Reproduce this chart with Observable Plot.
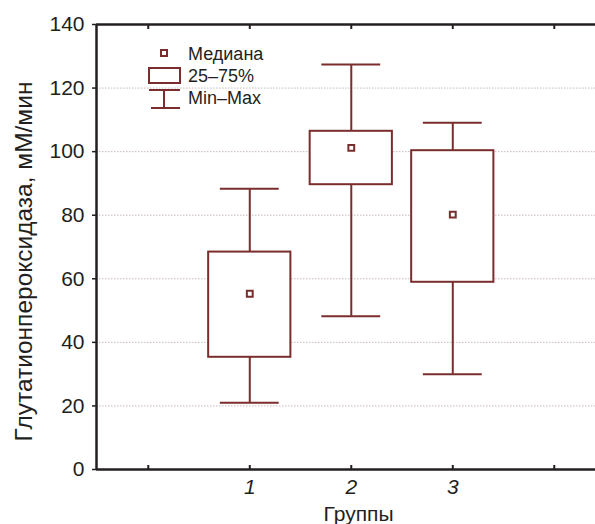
<!DOCTYPE html>
<html>
<head>
<meta charset="utf-8">
<script src="https://cdn.jsdelivr.net/npm/d3@7"></script>
<script src="https://cdn.jsdelivr.net/npm/@observablehq/plot@0.6"></script>
<style>
  html, body { margin: 0; padding: 0; background: #fff; }
  #wrap { position: relative; width: 595px; height: 524px; overflow: hidden; font-family: "Liberation Sans", Arial, sans-serif; }
  #legend { position: absolute; left: 0; top: 0; pointer-events: none; }
</style>
</head>
<body>
<div id="wrap">
  <div id="chart"></div>
  <svg id="legend" width="300" height="120" font-family="Liberation Sans, Arial, sans-serif" font-size="18" fill="#231f20">
    <rect x="161" y="50" width="6" height="6" fill="#fff" stroke="#7b2d2d" stroke-width="2"></rect>
    <text x="188" y="59.5">Медиана</text>
    <rect x="149" y="68" width="31" height="15" fill="#fff" stroke="#7b2d2d" stroke-width="2"></rect>
    <text x="188" y="81.5">25–75%</text>
    <line x1="149" x2="180" y1="90" y2="90" stroke="#7b2d2d" stroke-width="2"></line>
    <line x1="164" x2="164" y1="90" y2="108" stroke="#7b2d2d" stroke-width="2"></line>
    <line x1="151" x2="180" y1="108" y2="108" stroke="#7b2d2d" stroke-width="2"></line>
    <text x="188" y="103.5">Min–Max</text>
  </svg>
</div>
<script>
// ---- data ----
const groups  = [1, 2, 3];
const mins    = [21.0, 48.2, 30.0];
const q1      = [35.3, 89.6, 58.9];
const medians = [55.3, 101.2, 80.2];
const q3      = [68.4, 106.4, 100.3];
const maxs    = [88.3, 127.4, 109.1];

const yTicks = [0, 20, 40, 60, 80, 100, 120, 140];
const gridValues = [20, 40, 60, 80, 100, 120];
const xTicks = [0, 1, 2, 3, 4];
const xTickLabels = ["", "1", "2", "3", ""];
const yLabel = "Глутатионпероксидаза, мМ/мин";
const xLabel = "Группы";

const table = groups.map((g, i) => ({
  g, min: mins[i], q1: q1[i], med: medians[i], q3: q3[i], max: maxs[i]
}));

const brown = "#7b2d2d";
const ink = "#231f20";
const xDomain = [-0.51, 4.406];
const boxHalf = 0.405;
const capHalf = 0.29;

const chart = Plot.plot({
  width: 595,
  height: 524,
  marginLeft: 96,
  marginRight: 0,
  marginTop: 24,
  marginBottom: 55,
  style: { fontFamily: "Liberation Sans, Arial, sans-serif", background: "#fff", color: ink, overflow: "visible" },
  x: { type: "linear", domain: xDomain },
  y: { domain: [0, 140] },
  marks: [
    Plot.ruleY(gridValues, { stroke: "#c9b9b9", strokeWidth: 1, strokeDasharray: "1.5,1.5" }),
    // whiskers
    Plot.ruleX(table, { x: "g", y1: "min", y2: "q1", stroke: brown, strokeWidth: 2 }),
    Plot.ruleX(table, { x: "g", y1: "q3", y2: "max", stroke: brown, strokeWidth: 2 }),
    Plot.ruleY(table, { y: "min", x1: d => d.g - capHalf, x2: d => d.g + capHalf, stroke: brown, strokeWidth: 2 }),
    Plot.ruleY(table, { y: "max", x1: d => d.g - capHalf, x2: d => d.g + capHalf, stroke: brown, strokeWidth: 2 }),
    // boxes
    Plot.rect(table, { x1: d => d.g - boxHalf, x2: d => d.g + boxHalf, y1: "q1", y2: "q3", fill: "#fff", stroke: brown, strokeWidth: 2 }),
    // medians
    Plot.dot(table, { x: "g", y: "med", symbol: "square", r: 3.3, fill: "#fff", stroke: brown, strokeWidth: 2 }),
    // frame lines
    Plot.ruleY([0], { stroke: ink, strokeWidth: 2.5 }),
    Plot.ruleY([140], { stroke: ink, strokeWidth: 2.5 }),
    Plot.ruleX([xDomain[0]], { y1: 0, y2: 140, stroke: ink, strokeWidth: 2.5 }),
    // axes
    Plot.axisY({ ticks: yTicks, tickSize: 4, tickPadding: 8, fontSize: 21, label: null, stroke: ink, strokeWidth: 1.5, fill: ink }),
    Plot.axisX({ anchor: "bottom", ticks: xTicks, tickSize: -4, tickPadding: 14, fontSize: 21, fontStyle: "italic",
      tickFormat: (d) => xTickLabels[xTicks.indexOf(d)] ?? "", label: null, stroke: ink, strokeWidth: 2, fill: ink }),
    Plot.axisX({ anchor: "top", ticks: xTicks, tickSize: -4, tickFormat: () => "", label: null, stroke: ink, strokeWidth: 2 }),
    // axis titles
    Plot.text([yLabel], { text: d => d, frameAnchor: "left", rotate: -90, dx: -65, dy: 14.5, lineAnchor: "bottom", textAnchor: "middle", fontSize: 24.5, fill: ink }),
    Plot.text([xLabel], { text: d => d, frameAnchor: "bottom", dx: 12.5, dy: 51, lineAnchor: "bottom", textAnchor: "middle", fontSize: 21, fill: ink })
  ]
});
document.getElementById("chart").appendChild(chart);
</script>
</body>
</html>
